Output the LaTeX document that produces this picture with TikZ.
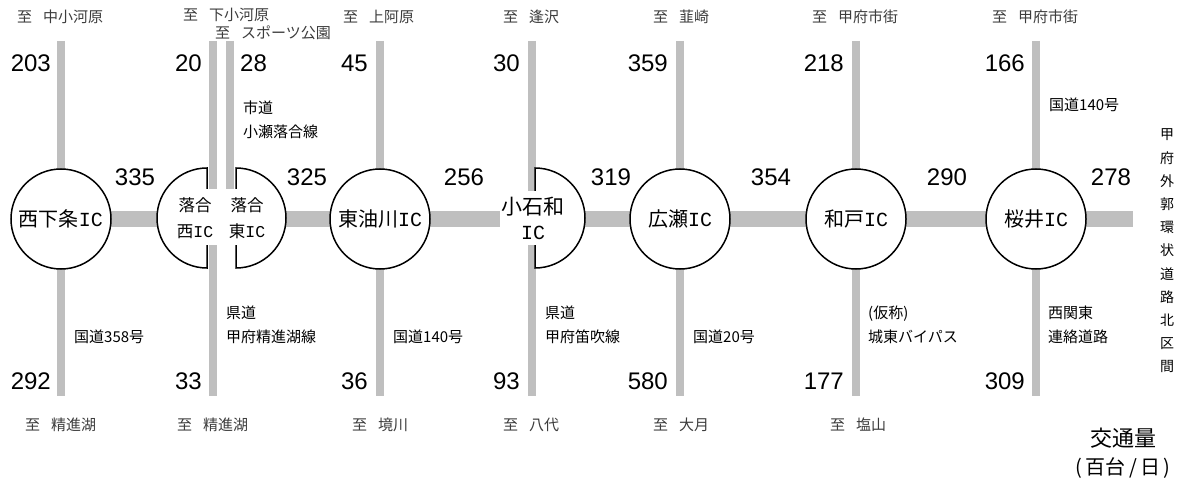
\documentclass[tikz,border=0pt]{standalone}
\usepackage{fontspec}
\usepackage{graphicx}
\setmainfont{Liberation Sans}
\setmonofont{Liberation Mono}
\newfontfamily\jp{Noto Sans CJK JP}
\definecolor{roadc}{RGB}{191,191,191}
\definecolor{dest}{RGB}{60,60,60}
\newcommand\icx{{\ttfamily IC}}
\newcommand\itaru{至\hspace{0.73em}}
\begin{document}
\begin{tikzpicture}[x=1pt,y=-1pt,
  road/.style={line width=16pt, draw=roadc},
  sideroad/.style={line width=8pt, draw=roadc},
  icline/.style={line width=1.5pt, draw=black},
  ic/.style={circle, icline, fill=white, minimum size=100pt, inner sep=0pt, font=\jp\fontsize{20}{22}\selectfont},
  num/.style={font=\fontsize{24}{26}\selectfont, inner sep=0pt},
  dst/.style={font=\jp\fontsize{15}{16}\selectfont, text=dest, inner sep=0pt, anchor=west},
  rname/.style={font=\jp\fontsize{15}{24}\selectfont, inner sep=0pt, anchor=west, align=left},
  smallic/.style={font=\jp\fontsize{16.5}{26}\selectfont, align=center, inner sep=0pt},
]
\useasboundingbox (0,0) rectangle (1185,481);

% centres
\coordinate (c1) at (61,219);
\coordinate (c4) at (380,219);
\coordinate (c6) at (680,219);
\coordinate (c7) at (856,219);
\coordinate (c8) at (1036,219);
\coordinate (eastend) at (1133,219);

% main road
\draw[road] (c1) -- (eastend);

% side roads
\foreach \n/\x in {1/61,2/213,4/380,5/532,6/680,7/856,8/1036}{
  \coordinate (t\n) at (\x,41);
  \coordinate (b\n) at (\x,396);
  \draw[sideroad] (t\n) -- (b\n);
}
\coordinate (t3) at (230,41);
\coordinate (m3) at (230,219);
\draw[sideroad] (t3) -- (m3);

% full IC circles
\node[ic] (nishishimojo) at (c1) {西下条\icx};
\node[ic] (higashiaburakawa) at (c4) {東油川\icx};
\node[ic] (hirose) at (c6) {広瀬\icx};
\node[ic] (wado) at (c7) {和戸\icx};
\node[ic] (sakurai) at (c8) {桜井\icx};

% half IC shapes
\draw[icline, fill=white] (207,168) arc[start angle=270, end angle=90, radius=50] -- cycle;
\draw[icline, fill=white] (236,168) arc[start angle=-90, end angle=90, radius=50] -- cycle;
\draw[icline, fill=white] (535,168) arc[start angle=-90, end angle=90, radius=50] -- cycle;
\fill[white] (200,189) rectangle (243,245);
\fill[white] (500,191) rectangle (566,245);

\node[smallic] (ochiaiW) at (195,218) {落合\\西\icx};
\node[smallic] (ochiaiE) at (247,218) {落合\\東\icx};
\node[font=\jp\fontsize{21}{24}\selectfont, inner sep=0pt] (koisawa) at (533,207) {小石和};
\node[font=\fontsize{20}{22}\selectfont, inner sep=0pt] (koisawaic) at (533,233) {\icx};

% top numbers
\node[num, anchor=east] (n1t) at (51,63) {203};
\node[num, anchor=east] (n2t) at (202,63) {20};
\node[num, anchor=west] (n3t) at (240,63) {28};
\node[num, anchor=east] (n4t) at (368,63) {45};
\node[num, anchor=east] (n5t) at (520,63) {30};
\node[num, anchor=east] (n6t) at (668,63) {359};
\node[num, anchor=east] (n7t) at (844,63) {218};
\node[num, anchor=east] (n8t) at (1025,63) {166};

% bottom numbers
\node[num, anchor=east] (n1b) at (51,381) {292};
\node[num, anchor=east] (n2b) at (202,381) {33};
\node[num, anchor=east] (n4b) at (368,381) {36};
\node[num, anchor=east] (n5b) at (520,381) {93};
\node[num, anchor=east] (n6b) at (668,381) {580};
\node[num, anchor=east] (n7b) at (844,381) {177};
\node[num, anchor=east] (n8b) at (1025,381) {309};

% section numbers
\node[num] (s1) at (135,177) {335};
\node[num] (s2) at (307,177) {325};
\node[num] (s3) at (464,177) {256};
\node[num] (s4) at (611,177) {319};
\node[num] (s5) at (771,177) {354};
\node[num] (s6) at (947,177) {290};
\node[num] (s7) at (1111,177) {278};

% destinations
\node[dst] (d1t) at (17,17) {\itaru 中小河原};
\node[dst] (d2t) at (183,15) {\itaru 下小河原};
\node[dst] (d3t) at (215,33) {\itaru スポーツ公園};
\node[dst] (d4t) at (343,17) {\itaru 上阿原};
\node[dst] (d5t) at (503,17) {\itaru 逢沢};
\node[dst] (d6t) at (653,17) {\itaru 韮崎};
\node[dst] (d7t) at (812,17) {\itaru 甲府市街};
\node[dst] (d8t) at (992,17) {\itaru 甲府市街};
\node[dst] (d1b) at (25,425) {\itaru 精進湖};
\node[dst] (d2b) at (177,425) {\itaru 精進湖};
\node[dst] (d4b) at (352,425) {\itaru 境川};
\node[dst] (d5b) at (503,425) {\itaru 八代};
\node[dst] (d6b) at (653,425) {\itaru 大月};
\node[dst] (d7b) at (830,425) {\itaru 塩山};

% road names
\node[rname] (r3t) at (243,120) {市道\\小瀬落合線};
\node[rname] (r8t) at (1049,105) {国道140号};
\node[rname] (r1b) at (74,337) {国道358号};
\node[rname] (r2b) at (226,325) {県道\\甲府精進湖線};
\node[rname] (r4b) at (393,337) {国道140号};
\node[rname] (r5b) at (545,325) {県道\\甲府笛吹線};
\node[rname] (r6b) at (693,337) {国道20号};
\node[rname] (r7b) at (868,325) {(仮称)\\城東バイパス};
\node[rname] (r8b) at (1048,325) {西関東\\連絡道路};

% section name (vertical)
\node[font=\jp\fontsize{14}{23.2}\selectfont, align=center, inner sep=0pt] (secname) at (1167,251)
  {甲\\府\\外\\郭\\環\\状\\道\\路\\北\\区\\間};

% legend
\node[font=\jp\fontsize{22}{24}\selectfont, inner sep=0pt] (legend1) at (1123,438) {交通量};
\node[font=\jp\fontsize{20}{24}\selectfont, inner sep=0pt] (legend2) at (1123,468) {(\,百台\,/\,日\,)};
\end{tikzpicture}
\end{document}
